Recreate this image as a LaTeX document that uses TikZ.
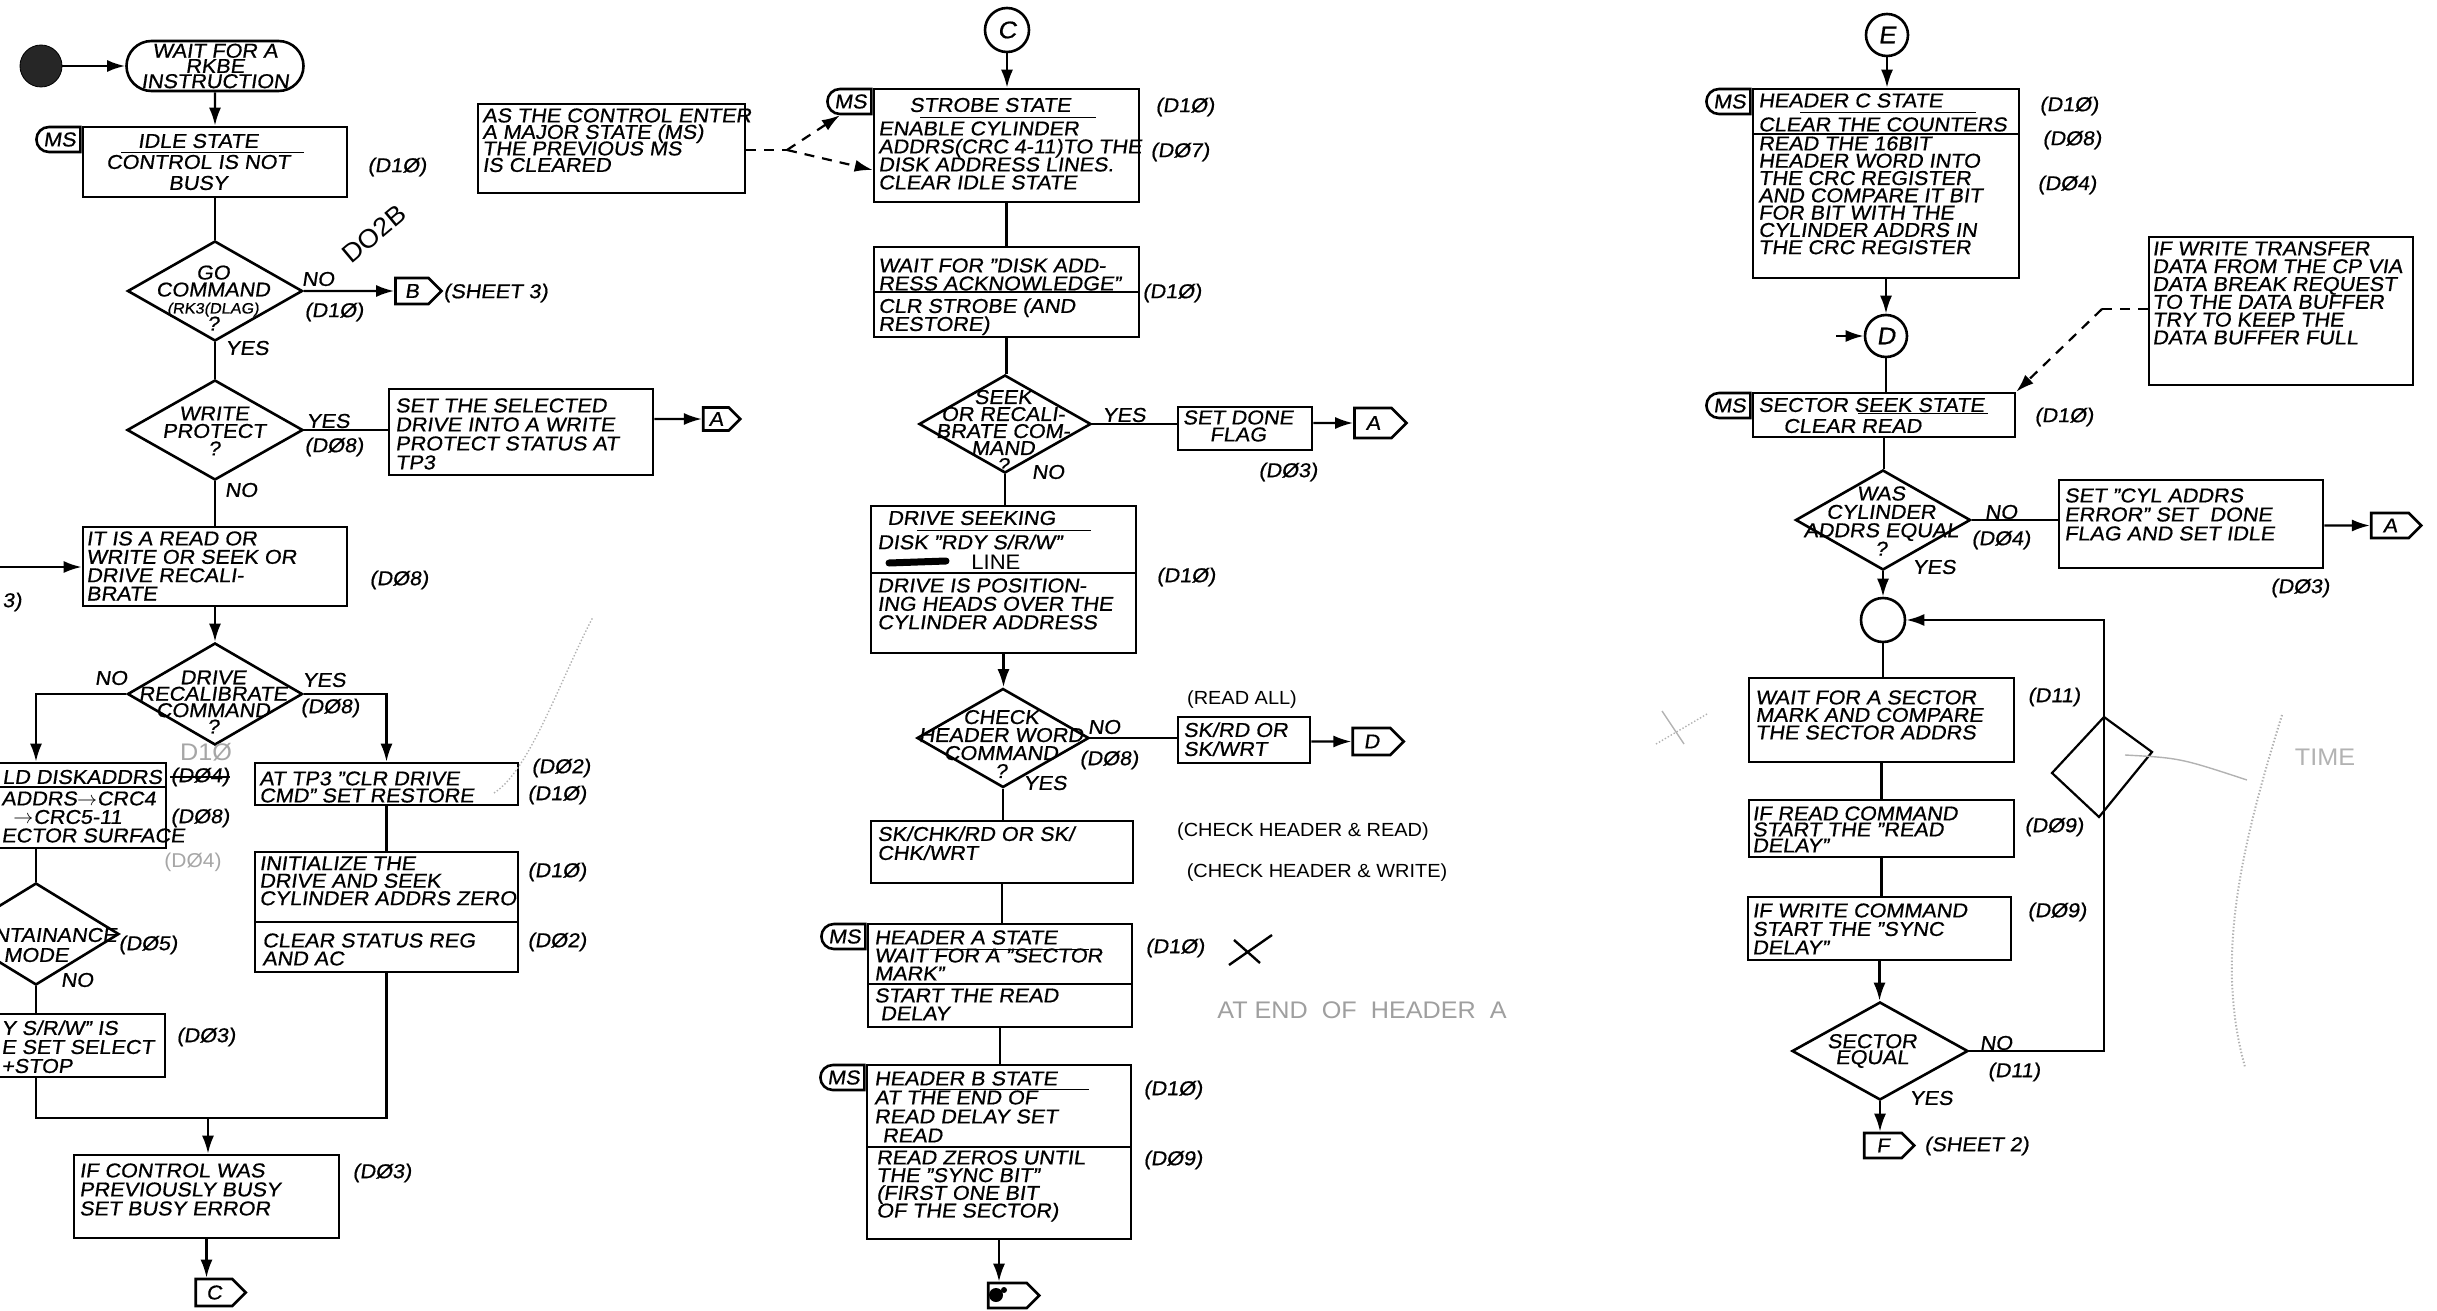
\documentclass[tikz,border=0pt]{standalone}
\usepackage{fontspec}
\setmainfont{Liberation Sans}[FakeStretch=1.08,FakeSlant=0.15,FakeBold=0.7]
\newfontfamily\uprfont{Liberation Sans}[FakeStretch=1.05]
\usetikzlibrary{shapes.geometric,shapes.misc,shapes.symbols,arrows.meta,positioning,calc}

\newcommand{\hand}{\fontsize{10}{9}\selectfont\lineskiplimit=-20pt\relax}

\tikzset{
  procbox/.style={draw, line width=1.3pt, inner sep=0pt},
  decision/.style={draw, diamond, line width=1.3pt, inner sep=0pt},
  terminal/.style={draw, rounded rectangle, line width=1.3pt, inner sep=0pt, align=center,
    font={\fontsize{10}{7.6}\selectfont\lineskiplimit=-20pt\relax}},
  mstab/.style={draw, rounded rectangle, rounded rectangle east arc=none, line width=1.3pt,
    inner sep=0pt, minimum width=22pt, minimum height=12.5pt, font=\hand},
  offpage/.style={draw, signal, signal to=east, line width=1.3pt, inner sep=0pt, font=\hand},
  connector/.style={draw, circle, line width=1.3pt, inner sep=0pt, minimum size=22pt,
    font={\fontsize{12}{12}\selectfont}},
  txt/.style={inner sep=0pt, align=left, anchor=north west, font=\hand},
  ctxt/.style={inner sep=0pt, align=center, font=\hand},
  lsk/.style={font={\fontsize{10}{#1}\selectfont\lineskiplimit=-20pt\relax}},
  lbl/.style={inner sep=0pt, font=\hand},
  upr/.style={font={\uprfont\fontsize{9.5}{9.5}\selectfont}},
  flow/.style={line width=1.2pt},
  arr/.style={flow, -{Latex[length=9pt,width=6pt]}},
  notelink/.style={line width=1.1pt, dash pattern=on 5pt off 4pt},
  faint/.style={gray!60, line width=0.7pt},
}

\begin{document}
\begin{tikzpicture}[x=0.5pt, y=-0.5pt]
\useasboundingbox (0,0) rectangle (2437,1311);
\clip (0,0) rectangle (2437,1311);

% ---------- left column ----------
\node[circle, draw, fill=black!85, minimum size=21pt, inner sep=0pt] (start) at (41,66) {};
\node[terminal, minimum width=88.5pt, minimum height=25pt] (rkbe) at (215,66) {WAIT FOR A\\RKBE\\INSTRUCTION};
\node[procbox, minimum width=132pt, minimum height=35pt] (idle) at (215,162) {};
\node[mstab, anchor=north east] (msIdle) at (idle.north west) {MS};
\node[ctxt, lsk=10.5pt] (idleT) at (198,162) {IDLE STATE\\CONTROL IS NOT\\BUSY};
\draw (121,152) -- (304,152);
\node[lbl] (idleRef) at (397,167) {(D1Ø)};

\node[decision, minimum width=87.5pt, minimum height=50pt] (goCmd) at (215,291) {};
\node[ctxt, lsk=8.5pt] (goCmdT) at (213,298) {GO\\COMMAND\\{\fontsize{7.5}{7}\selectfont (RK3(DLAG)}\\?};
\node[lbl] (goNo) at (318,279) {NO};
\node[lbl] (goRef) at (334,312) {(D1Ø)};
\node[lbl, font={\uprfont\fontsize{13}{13}\selectfont}, rotate=40] (goNote) at (374,234) {DO2B};
\node[offpage, minimum width=23pt, minimum height=13pt] (toB) at (412,291) {B};
\node[lbl, anchor=west] (sheet3) at (443,293) {(SHEET 3)};
\node[lbl] (goYes) at (247,348) {YES};

\node[decision, minimum width=88pt, minimum height=50pt] (wrProt) at (215,430) {};
\node[ctxt, lsk=8.75pt] (wrProtT) at (214,431) {WRITE\\PROTECT\\?};
\node[lbl] (wrYes) at (328,421) {YES};
\node[lbl] (wrRef) at (334,447) {(DØ8)};
\node[procbox, minimum width=132pt, minimum height=43pt] (setSel) at (521,432) {};
\node[txt, lsk=9.5pt] (setSelT) at (395,398) {SET THE SELECTED\\DRIVE INTO A WRITE\\PROTECT STATUS AT\\TP3};
\node[offpage, minimum width=18.5pt, minimum height=11.5pt] (toA1) at (716,419) {A};
\node[lbl] (wrNo) at (241,490) {NO};

\node[procbox, minimum width=132pt, minimum height=39.5pt] (rdWr) at (215,566.5) {};
\node[txt, lsk=9.2pt] (rdWrT) at (86,531) {IT IS A READ OR\\WRITE OR SEEK OR\\DRIVE RECALI-\\BRATE};
\coordinate (fromB) at (0,567);
\node[lbl, anchor=west] (sheet3b) at (2,602) {3)};
\node[lbl] (rdWrRef) at (399,580) {(DØ8)};

\node[decision, minimum width=87.5pt, minimum height=51pt] (recal) at (215,694) {};
\node[ctxt, lsk=8.2pt] (recalT) at (213,702) {DRIVE\\RECALIBRATE\\COMMAND\\?};
\node[lbl] (recNo) at (111,678) {NO};
\node[lbl] (recYes) at (324,680) {YES};
\node[lbl] (recRef) at (330,708) {(DØ8)};

% no branch
\node[procbox, minimum width=130pt, minimum height=42.5pt] (build) at (36,805.5) {};
\draw[flow] (-94,787) -- (166,787);
\node[lbl, anchor=west] (buildT1) at (2,777) {LD DISKADDRS};
\node[txt, lsk=9.25pt] (buildT2) at (1,791) {ADDRS$\to$CRC4\\\ \ $\to$CRC5-11\\ECTOR SURFACE};
\node[lbl] (buildOld) at (200,777) {(DØ4)};
\draw[line width=1.2pt] (buildOld.west) -- (buildOld.east);
\node[lbl] (buildRef) at (200,818) {(DØ8)};
\node[lbl, font={\uprfont\fontsize{12}{12}\selectfont}, text=gray!70] (buildNote1) at (206,752) {D1Ø};
\node[lbl, font={\uprfont\fontsize{10}{10}\selectfont}, text=gray!70] (buildNote2) at (193,862) {(DØ4)};

\node[decision, minimum width=83pt, minimum height=51pt] (maint) at (36,934) {};
\node[ctxt, lsk=10pt] (maintT) at (36,945) {MAINTAINANCE\\MODE};
\node[lbl] (maintRef) at (148,945) {(DØ5)};
\node[lbl] (maintNo) at (77,980) {NO};

\node[procbox, minimum width=129pt, minimum height=31.5pt] (rdyStop) at (36,1045.5) {};
\node[txt, lsk=9.5pt] (rdyStopT) at (1,1020) {Y S/R/W" IS\\E SET SELECT\\+STOP};
\node[lbl] (rdyRef) at (206,1037) {(DØ3)};

% yes branch
\node[procbox, minimum width=131.5pt, minimum height=21pt] (clrDrv) at (386.5,784) {};
\node[txt, lsk=8.5pt] (clrDrvT) at (259,771) {AT TP3 "CLR DRIVE\\CMD" SET RESTORE};
\node[lbl] (clrRef1) at (561,768) {(DØ2)};
\node[lbl] (clrRef2) at (557,795) {(D1Ø)};
\node[procbox, minimum width=131.5pt, minimum height=60pt] (initDrv) at (386.5,912) {};
\draw[flow] (255,922) -- (518,922);
\node[txt, lsk=8.75pt] (initT1) at (259,856) {INITIALIZE THE\\DRIVE AND SEEK\\CYLINDER ADDRS ZERO};
\node[txt, lsk=9pt] (initT2) at (262,933) {CLEAR STATUS REG\\AND AC};
\node[lbl] (initRef1) at (557,872) {(D1Ø)};
\node[lbl] (initRef2) at (557,942) {(DØ2)};
\draw[faint, densely dotted] (494,793) .. controls (530,770) and (560,680) .. (593,617);

\coordinate (merge) at (208,1118);
\node[procbox, minimum width=132.5pt, minimum height=41.5pt] (busyErr) at (206.5,1196.5) {};
\node[txt, lsk=9.5pt] (busyErrT) at (79,1163) {IF CONTROL WAS\\PREVIOUSLY BUSY\\SET BUSY ERROR};
\node[lbl] (busyRef) at (382,1173) {(DØ3)};
\node[offpage, minimum width=25pt, minimum height=13.5pt] (toC) at (214,1292.5) {C};

\draw[arr] (start) -- (rkbe);
\draw[arr] (rkbe) -- (idle);
\draw[flow] (idle) -- (goCmd);
\draw[arr] (goCmd.east) -- (toB);
\draw[flow] (goCmd) -- (wrProt);
\draw[flow] (wrProt.east) -- (wrProt.east -| setSel.west);
\draw[arr] (toA1 -| setSel.east) -- (toA1);
\draw[flow] (wrProt) -- (rdWr);
\draw[arr] (fromB) -- (fromB -| rdWr.west);
\draw[arr] (rdWr) -- (recal);
\draw[arr] (recal.west) -| (build.north);
\draw[flow] (build) -- (maint);
\draw[flow] (maint) -- (rdyStop);
\draw[arr] (recal.east) -| (clrDrv.north);
\draw[flow] (clrDrv) -- (initDrv);
\draw[flow] (rdyStop.south) |- (merge) -| (initDrv.south);
\draw[arr] (merge) -- (merge |- busyErr.north);
\draw[arr] (busyErr.south) -- (busyErr.south |- toC.north);

% ---------- note on major states ----------
\node[procbox, minimum width=133.5pt, minimum height=44.5pt] (msNote) at (611.5,148.5) {};
\node[txt, lsk=8.25pt] (msNoteT) at (482,108) {AS THE CONTROL ENTER\\A MAJOR STATE (MS)\\THE PREVIOUS MS\\IS CLEARED};

% ---------- middle column ----------
\node[connector] (cIn) at (1007,30) {C};
\node[procbox, minimum width=132.5pt, minimum height=56.5pt] (strobe) at (1006.5,145.5) {};
\node[mstab, anchor=north east] (msStrobe) at (strobe.north west) {MS};
\node[ctxt] (strobeT1) at (990,105) {STROBE STATE};
\draw (920,117) -- (1096,117);
\node[txt, lsk=9pt] (strobeT2) at (878,121) {ENABLE CYLINDER\\ADDRS(CRC 4-11)TO THE\\DISK ADDRESS LINES.\\CLEAR IDLE STATE};
\node[lbl] (strobeRef1) at (1185,107) {(D1Ø)};
\node[lbl] (strobeRef2) at (1180,152) {(DØ7)};

\coordinate (noteFork) at (787,150);
\draw[notelink] (msNote.east |- noteFork) -- (noteFork);
\draw[notelink, -{Latex[length=9pt,width=6pt]}] (noteFork) -- (msStrobe.south west);
\draw[notelink, -{Latex[length=9pt,width=6pt]}] (noteFork) -- (strobe.west |- 0,170);

\node[procbox, minimum width=132.5pt, minimum height=45pt] (waitAck) at (1006.5,292) {};
\draw[flow] (874,292) -- (1139,292);
\node[txt, lsk=9pt] (waitAckT1) at (878,258) {WAIT FOR "DISK ADD-\\RESS ACKNOWLEDGE"};
\node[txt, lsk=9pt] (waitAckT2) at (878,298) {CLR STROBE (AND\\RESTORE)};
\node[lbl] (waitRef) at (1172,293) {(D1Ø)};

\node[decision, minimum width=86pt, minimum height=49pt] (seekCmd) at (1005,424) {};
\node[ctxt, lsk=8.5pt] (seekCmdT) at (1003,431) {SEEK\\OR RECALI-\\BRATE COM-\\MAND\\?};
\node[lbl] (seekYes) at (1124,415) {YES};
\node[lbl] (seekNo) at (1048,472) {NO};
\node[procbox, minimum width=67pt, minimum height=21.5pt] (setDone) at (1245,428.5) {};
\node[ctxt, lsk=8.5pt] (setDoneT) at (1238,426) {SET DONE\\FLAG};
\node[offpage, minimum width=26pt, minimum height=15pt] (toA2) at (1373,423) {A};
\node[lbl] (setDoneRef) at (1288,472) {(DØ3)};

\node[procbox, minimum width=132.5pt, minimum height=73.5pt] (seeking) at (1003.5,579.5) {};
\draw[flow] (871,573) -- (1136,573);
\node[lbl, anchor=west] (seekingT1) at (887,518) {DRIVE SEEKING};
\draw (917,530) -- (1091,530);
\node[lbl, anchor=west] (seekingT2) at (877,542) {DISK "RDY S/R/W"};
\draw[line width=3.5pt, line cap=round] (889,563) -- (946,561);
\node[lbl, anchor=west, font={\uprfont\fontsize{10.5}{10.5}\selectfont}] (seekingT3) at (971,562) {LINE};
\node[txt, lsk=9.2pt] (seekingT4) at (877,578) {DRIVE IS POSITION-\\ING HEADS OVER THE\\CYLINDER ADDRESS};
\node[lbl] (seekingRef) at (1186,577) {(D1Ø)};

\node[decision, minimum width=86pt, minimum height=49.5pt] (chkHdr) at (1003,738) {};
\node[ctxt, lsk=9pt] (chkHdrT) at (1001,744) {CHECK\\HEADER WORD\\COMMAND\\?};
\node[lbl] (chkNo) at (1104,727) {NO};
\node[lbl] (chkRef) at (1109,760) {(DØ8)};
\node[lbl] (chkYes) at (1045,783) {YES};
\node[procbox, minimum width=66pt, minimum height=23pt] (skRd) at (1244,740) {};
\node[txt, lsk=9.5pt] (skRdT) at (1183,722) {SK/RD OR\\SK/WRT};
\node[lbl, upr] (readAll) at (1242,700) {(READ ALL)};
\node[offpage, minimum width=25.5pt, minimum height=13.5pt] (toD) at (1371.5,741.5) {D};

\node[procbox, minimum width=131pt, minimum height=31pt] (skChk) at (1002,852) {};
\node[txt, lsk=9.5pt] (skChkT) at (877,826) {SK/CHK/RD OR SK/\\CHK/WRT};
\node[lbl, upr] (chkRead) at (1303,832) {(CHECK HEADER \& READ)};
\node[lbl, upr] (chkWrite) at (1317,873) {(CHECK HEADER \& WRITE)};

\node[procbox, minimum width=132pt, minimum height=51.5pt] (hdrA) at (1000,975.5) {};
\node[mstab, anchor=north east] (msHdrA) at (hdrA.north west) {MS};
\draw[flow] (868,984) -- (1132,984);
\node[txt, lsk=9pt] (hdrAT1) at (874,930) {HEADER A STATE\\WAIT FOR A "SECTOR\\MARK"};
\draw (930,949) -- (1089,949);
\node[txt, lsk=9pt] (hdrAT2) at (874,988) {START THE READ\\\hspace{3pt}DELAY};
\node[lbl] (hdrARef) at (1175,948) {(D1Ø)};
\draw[line width=1.2pt] (1229,965) -- (1272,935);
\draw[line width=1.2pt] (1234,940) -- (1260,963);
\node[lbl, font={\uprfont\fontsize{12}{12}\selectfont}, text=gray!75] (atEnd) at (1362,1010) {AT END \ OF \ HEADER \ A};

\node[procbox, minimum width=132pt, minimum height=87pt] (hdrB) at (999,1152) {};
\node[mstab, anchor=north east] (msHdrB) at (hdrB.north west) {MS};
\draw[flow] (867,1147) -- (1131,1147);
\node[txt, lsk=9.5pt] (hdrBT1) at (874,1071) {HEADER B STATE\\AT THE END OF\\READ DELAY SET\\\hspace{4pt}READ};
\draw (920,1089) -- (1089,1089);
\node[txt, lsk=8.85pt] (hdrBT2) at (876,1150) {READ ZEROS UNTIL\\THE "SYNC BIT"\\(FIRST ONE BIT\\OF THE SECTOR)};
\node[lbl] (hdrBRef1) at (1173,1090) {(D1Ø)};
\node[lbl] (hdrBRef2) at (1173,1160) {(DØ9)};
\node[offpage, minimum width=25.5pt, minimum height=12.5pt] (toE) at (1007.5,1295.5) {};
\fill (996,1295) circle[radius=3.5pt];
\fill (1004,1290) circle[radius=1.5pt];

\draw[arr] (cIn) -- (cIn |- strobe.north);
\draw[flow] (strobe.south) -- (waitAck.north);
\draw[flow] (waitAck.south) -- (waitAck.south |- seekCmd.north);
\draw[flow] (seekCmd.east) -- (seekCmd.east -| setDone.west);
\draw[arr] (toA2 -| setDone.east) -- (toA2);
\draw[flow] (seekCmd.south) -- (seekCmd.south |- seeking.north);
\draw[arr] (seeking.south) -- (seeking.south |- chkHdr.north);
\draw[flow] (chkHdr.east) -- (chkHdr.east -| skRd.west);
\draw[arr] (toD -| skRd.east) -- (toD);
\draw[flow] (chkHdr.south) -- (chkHdr.south |- skChk.north);
\draw[flow] (skChk.south) -- (skChk.south |- hdrA.north);
\draw[flow] (hdrA.south) -- (hdrA.south |- hdrB.north);
\draw[arr] (hdrB.south) -- (hdrB.south |- toE.north);

% ---------- right column ----------
\node[connector, minimum size=21pt] (eIn) at (1887,35) {E};
\node[procbox, minimum width=133pt, minimum height=94.5pt] (hdrC) at (1886,183.5) {};
\node[mstab, anchor=north east] (msHdrC) at (hdrC.north west) {MS};
\draw[flow] (1753,134) -- (2019,134);
\node[txt, lsk=12pt] (hdrCT1) at (1758,93) {HEADER C STATE\\CLEAR THE COUNTERS};
\draw (1800,112) -- (1976,112);
\node[txt, lsk=8.65pt] (hdrCT2) at (1758,136) {READ THE 16BIT\\HEADER WORD INTO\\THE CRC REGISTER\\AND COMPARE IT BIT\\FOR BIT WITH THE\\CYLINDER ADDRS IN\\THE CRC REGISTER};
\node[lbl] (hdrCRef1) at (2069,106) {(D1Ø)};
\node[lbl] (hdrCRef2) at (2072,140) {(DØ8)};
\node[lbl] (hdrCRef3) at (2067,185) {(DØ4)};

\node[connector, minimum size=21pt] (dIn) at (1886,336) {D};
\coordinate (dFrom) at (1836,336);
\node[procbox, minimum width=131pt, minimum height=22pt] (secSeek) at (1884,415) {};
\node[mstab, anchor=north east] (msSecSeek) at (secSeek.north west) {MS};
\node[lbl, anchor=west] (secSeekT1) at (1758,405) {SECTOR SEEK STATE};
\draw (1858,413) -- (1988,413);
\node[lbl, anchor=west] (secSeekT2) at (1783,426) {CLEAR READ};
\node[lbl] (secSeekRef) at (2064,417) {(D1Ø)};

\node[procbox, minimum width=132pt, minimum height=74pt] (bufNote) at (2281,311) {};
\node[txt, lsk=8.9pt] (bufNoteT) at (2152,241) {IF WRITE TRANSFER\\DATA FROM THE CP VIA\\DATA BREAK REQUEST\\TO THE DATA BUFFER\\TRY TO KEEP THE\\DATA BUFFER FULL};
\coordinate (bufFork) at (2102,309);
\draw[notelink] (bufNote.west |- bufFork) -- (bufFork);
\draw[notelink, -{Latex[length=9pt,width=6pt]}] (bufFork) -- (secSeek.north east);

\node[decision, minimum width=87.5pt, minimum height=50pt] (cylEq) at (1883,520) {};
\node[ctxt, lsk=9.2pt] (cylEqT) at (1881,521) {WAS\\CYLINDER\\ADDRS EQUAL\\?};
\node[lbl] (cylNo) at (2001,512) {NO};
\node[lbl] (cylRef) at (2001,540) {(DØ4)};
\node[lbl] (cylYes) at (1934,567) {YES};
\node[procbox, minimum width=132pt, minimum height=44pt] (cylErr) at (2191,524) {};
\node[txt, lsk=9.5pt] (cylErrT) at (2064,488) {SET "CYL ADDRS\\ERROR" SET \ DONE\\FLAG AND SET IDLE};
\node[lbl] (cylErrRef) at (2300,588) {(DØ3)};
\node[offpage, minimum width=25pt, minimum height=12.5pt] (toA3) at (2390,525.5) {A};

\node[connector] (loopJoin) at (1883,620) {};
\coordinate (loopTop) at (2104,620);
\node[procbox, minimum width=132.5pt, minimum height=42pt] (waitSec) at (1881.5,720) {};
\node[txt, lsk=8.75pt] (waitSecT) at (1755,690) {WAIT FOR A SECTOR\\MARK AND COMPARE\\THE SECTOR ADDRS};
\node[lbl] (waitSecRef) at (2054,697) {(D11)};
\node[procbox, minimum width=132.5pt, minimum height=28.5pt] (ifRead) at (1881.5,828.5) {};
\node[txt, lsk=8pt] (ifReadT) at (1752,806) {IF READ COMMAND\\START THE "READ\\DELAY"};
\node[lbl] (ifReadRef) at (2054,827) {(DØ9)};
\node[procbox, minimum width=131.5pt, minimum height=31.5pt] (ifWrite) at (1879.5,928.5) {};
\node[txt, lsk=9.25pt] (ifWriteT) at (1752,903) {IF WRITE COMMAND\\START THE "SYNC\\DELAY"};
\node[lbl] (ifWriteRef) at (2057,912) {(DØ9)};

\node[decision, minimum width=88pt, minimum height=49pt] (secEq) at (1880,1051) {};
\node[ctxt, lsk=8pt] (secEqT) at (1872,1051) {SECTOR\\EQUAL};
\node[lbl] (secEqNo) at (1996,1043) {NO};
\node[lbl] (secEqRef) at (2014,1072) {(D11)};
\node[lbl] (secEqYes) at (1931,1098) {YES};
\node[offpage, minimum width=25pt, minimum height=12.5pt] (toF) at (1883,1145.5) {F};
\node[lbl, anchor=west] (sheet2) at (1924,1146) {(SHEET 2)};

\draw[arr] (eIn) -- (eIn |- hdrC.north);
\draw[arr] (hdrC.south) -- (hdrC.south |- dIn.north);
\draw[arr] (dFrom) -- (dIn);
\draw[flow] (dIn.south) -- (dIn.south |- secSeek.north);
\draw[flow] (secSeek.south) -- (secSeek.south |- cylEq.north);
\draw[flow] (cylEq.east) -- (cylEq.east -| cylErr.west);
\draw[arr] (toA3 -| cylErr.east) -- (toA3);
\draw[arr] (cylEq.south) -- (cylEq.south |- loopJoin.north);
\draw[flow] (loopJoin.south) -- (loopJoin.south |- waitSec.north);
\draw[flow] (waitSec.south) -- (waitSec.south |- ifRead.north);
\draw[flow] (ifRead.south) -- (ifRead.south |- ifWrite.north);
\draw[arr] (ifWrite.south) -- (ifWrite.south |- secEq.north);
\draw[arr] (secEq.east) -| (loopTop) -- (loopJoin.east);
\draw[arr] (secEq.south) -- (secEq.south |- toF.north);

% hand marks on the loop
\draw[line width=1.1pt] (2104,717) -- (2152,752) -- (2099,817) -- (2052,773) -- cycle;
\draw[faint] (2125,755) .. controls (2180,758) .. (2247,780);
\draw[faint, densely dotted, line width=1pt] (2282,715) .. controls (2240,850) and (2215,960) .. (2245,1067);
\node[lbl, font={\uprfont\fontsize{12}{12}\selectfont}, text=gray!60] (timeNote) at (2325,757) {TIME};
\draw[faint] (1662,711) -- (1684,744);
\draw[faint, densely dotted] (1656,744) -- (1707,714);
\end{tikzpicture}
\end{document}
